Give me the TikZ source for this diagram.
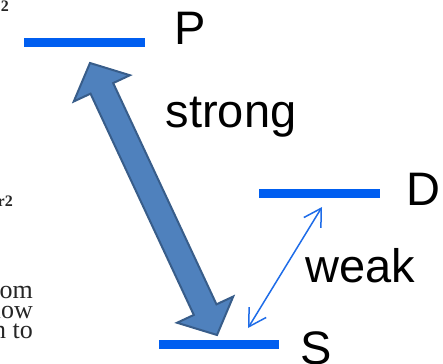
\documentclass[tikz,border=0pt]{standalone}
\usepackage{fontspec}
\setmainfont{Liberation Sans}
\newfontfamily\pagefont{Liberation Serif}
\usetikzlibrary{arrows.meta,calc}
\definecolor{levelblue}{RGB}{0,94,240}
\definecolor{bigfill}{RGB}{79,129,189}
\definecolor{bigedge}{RGB}{56,93,138}
\definecolor{thinblue}{RGB}{30,108,232}

\begin{document}
\begin{tikzpicture}[x=1pt,y=-1pt,
  level/.style={line width=8.5pt,levelblue},
  lab/.style={anchor=base west,inner sep=0pt,font=\fontsize{47}{47}\selectfont},
  scrap/.style={anchor=base east,inner sep=0pt,text=black!85,
    font=\fontsize{26}{26}\selectfont\pagefont},
  weakarrow/.style={thinblue,line width=1.5pt,
    {Straight Barb[length=17pt,width=20pt]}-{Straight Barb[length=17pt,width=20pt]}}]
\useasboundingbox (0,0) rectangle (443,363);

% Cut-off words from the page behind the figure.
\node[scrap,font=\fontsize{16}{16}\selectfont\pagefont\bfseries] (top2) at (9,12) {2};
\node[scrap,font=\fontsize{16}{16}\selectfont\pagefont\bfseries] (mid2) at (13,206) {r2};
\node[scrap] (w1) at (33,298) {om};
\node[scrap] (w2) at (33,318) {low};
\node[scrap] (w3) at (33,338) {n to};

% Energy levels P, D and S.
\coordinate (Pl) at (24,42.5);  \coordinate (Pr) at (145,42.5);
\coordinate (Dl) at (259,193.5); \coordinate (Dr) at (380,193.5);
\coordinate (Sl) at (159,344.5); \coordinate (Sr) at (279,344.5);
\draw[level] (Pl) -- (Pr);
\draw[level] (Dl) -- (Dr);
\draw[level] (Sl) -- (Sr);

\node[lab] (Plab) at (174.5,45) {P};
\node[lab] (Dlab) at (406,205) {D};
\node[lab] (Slab) at (300.5,364) {S};
\node[lab] (strong) at (165.5,128) {strong};
\node[lab] (weak) at (305,282) {weak};

% Strong S-P transition: fat block arrow with two heads.
\coordinate (Ptip) at (90,63);
\coordinate (Stip) at (217,335);
\coordinate (ha) at ($(Ptip)!28pt!(Stip)$);
\coordinate (hb) at ($(Stip)!28pt!(Ptip)$);
\filldraw[fill=bigfill,draw=bigedge,line width=2pt,line join=miter]
  (Ptip) -- ($(ha)!31pt!90:(Stip)$) -- ($(ha)!12.5pt!90:(Stip)$)
  -- ($(hb)!12.5pt!-90:(Ptip)$) -- ($(hb)!31pt!-90:(Ptip)$)
  -- (Stip) -- ($(hb)!31pt!90:(Ptip)$) -- ($(hb)!12.5pt!90:(Ptip)$)
  -- ($(ha)!12.5pt!-90:(Stip)$) -- ($(ha)!31pt!-90:(Stip)$) -- cycle;

% Weak S-D transition.
\coordinate (Dend) at (322,207);
\coordinate (Send) at (248,328);
\draw[weakarrow] (Send) -- (Dend);
\end{tikzpicture}
\end{document}
